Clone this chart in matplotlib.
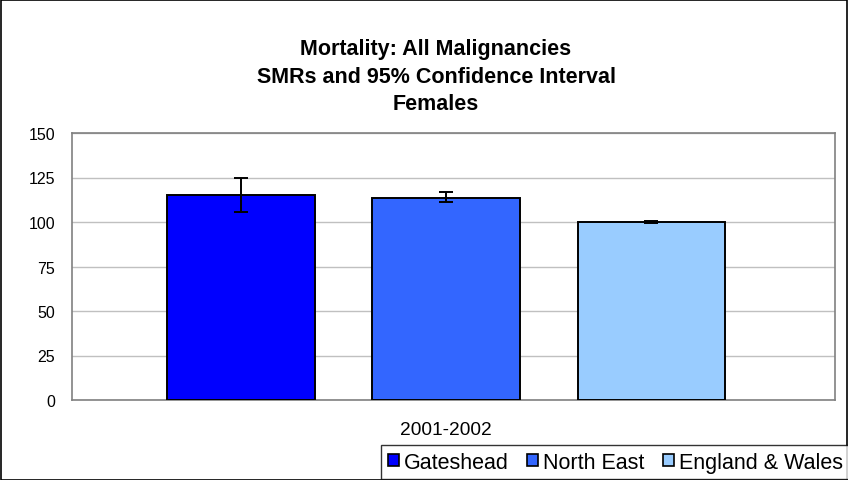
import matplotlib
matplotlib.use("Agg")
import matplotlib.pyplot as plt
from matplotlib.patches import Rectangle

plt.rcParams['font.family'] = ['Liberation Sans', 'DejaVu Sans']

categories = ["Gateshead", "North East", "England & Wales"]
smr = [115.2, 113.7, 100.0]
ci_low = [105.6, 111.0, 99.5]
ci_high = [124.7, 116.6, 100.5]
colors = ["#0000FF", "#3366FF", "#99CCFF"]
period = "2001-2002"
yticks = [0, 25, 50, 75, 100, 125, 150]
title_lines = ["Mortality: All Malignancies", "SMRs and 95% Confidence Interval", "Females"]

fig = plt.figure(figsize=(8.48, 4.81), dpi=100)
W, H = 848, 481
ax = fig.add_axes([72 / W, 1 - 401 / H, (835 - 72) / W, (401 - 134) / H])

positions = [-1, 0, 1]
for p, v, lo, hi, c, name in zip(positions, smr, ci_low, ci_high, colors, categories):
    ax.bar(p, v, width=0.72, color=c, edgecolor="black", linewidth=1.4, label=name, zorder=3)
    ax.errorbar(p, v, yerr=[[v - lo], [hi - v]], fmt="none", ecolor="black",
                elinewidth=1.4, capsize=5, capthick=1.4, zorder=4)

ax.set_xlim(-1.824, 1.895)
ax.set_ylim(0, 150)
ax.set_yticks(yticks)
ax.set_yticklabels([str(t) for t in yticks], fontsize=11.5)
ax.yaxis.grid(True, color="#c0c0c0", linewidth=1, zorder=0)
ax.tick_params(axis="y", length=0, pad=12)
ax.set_xticks([0])
ax.set_xticklabels([period], fontsize=13.8)
ax.tick_params(axis="x", length=0, pad=15)
for s in ax.spines.values():
    s.set_color("#808080")
    s.set_linewidth(1.2)

for y, line in zip([50, 77.5, 105], title_lines):
    fig.text(436 / W, 1 - y / H, line, ha="center", va="center",
             fontsize=15.5, fontweight="bold")

leg = fig.legend(loc="lower right", bbox_to_anchor=(849 / W, 1 / H), ncol=3, fontsize=15.5,
                 frameon=True, fancybox=False, edgecolor="black", handlelength=0.52,
                 handleheight=0.52, handletextpad=0.22, columnspacing=0.85, borderpad=0.3,
                 borderaxespad=0)
leg.get_frame().set_linewidth(1)
for h in leg.legend_handles:
    h.set_linewidth(1.2)

fig.patches.append(Rectangle((1 / W, 0), (W - 2) / W, (H - 1) / H, transform=fig.transFigure,
                             fill=False, edgecolor="black", linewidth=1.2))

fig.savefig("out.png", dpi=100)
